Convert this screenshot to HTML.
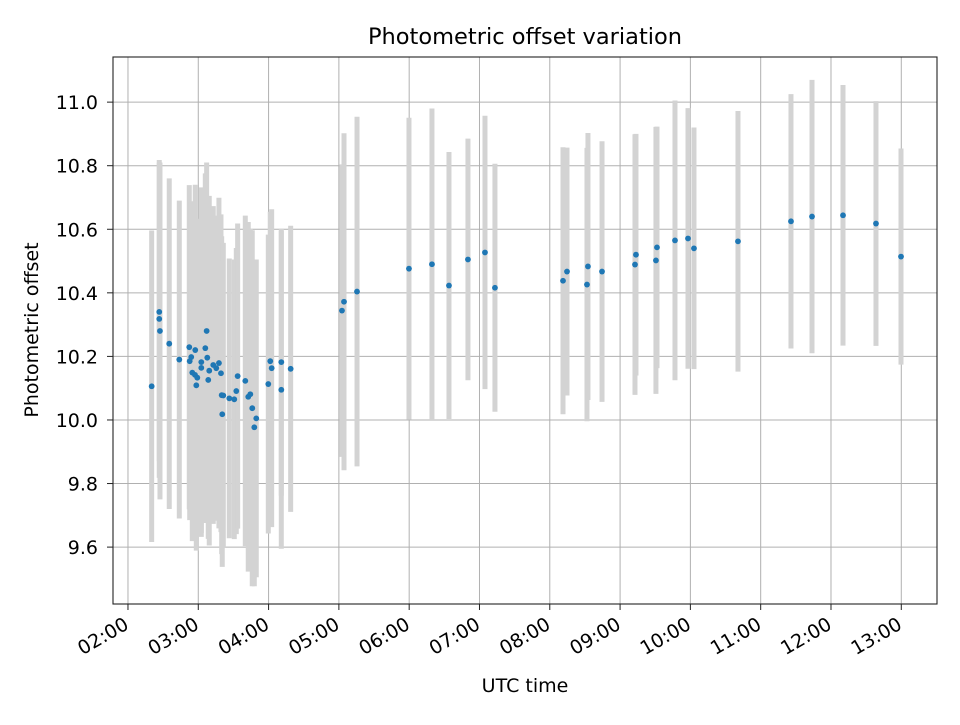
<!DOCTYPE html>
<html><head><meta charset="utf-8"><style>
body{margin:0;background:#fff;}
svg text{font-family:"DejaVu Sans","Liberation Sans",sans-serif;fill:#000;}
</style></head><body>
<svg id="chart" width="960" height="720" xmlns="http://www.w3.org/2000/svg">
<rect width="960" height="720" fill="#fff"/>
<g id="grid"></g>
<g id="bars"></g>
<g id="pts"></g>
<rect x="113" y="57" width="824" height="547" fill="none" stroke="#222" stroke-width="1.1"/>
<g id="axes"></g>
<text x="525" y="44" font-size="22.5" text-anchor="middle">Photometric offset variation</text>
<text x="525" y="692" font-size="19" text-anchor="middle">UTC time</text>
<text x="0" y="0" font-size="19" text-anchor="middle" transform="translate(38,330) rotate(-90)">Photometric offset</text>
</svg>
<script>
const times=[2.337,2.445,2.445,2.455,2.587,2.730,2.872,2.878,2.900,2.957,2.915,2.953,2.986,2.972,3.043,3.043,3.119,3.100,3.128,3.142,3.156,3.213,3.256,3.294,3.323,3.333,3.356,3.341,3.441,3.512,3.541,3.560,3.669,3.711,3.740,3.768,3.825,3.797,3.996,4.024,4.044,4.181,4.181,4.314,
5.044,5.073,5.258,5.997,6.324,6.566,6.836,7.078,7.220,8.188,8.245,8.529,8.543,8.743,9.212,9.226,9.510,9.525,9.781,9.966,10.051,10.677,11.431,11.730,12.171,12.640,12.996];
const values=[10.106,10.34,10.318,10.28,10.24,10.19,10.229,10.185,10.198,10.22,10.149,10.142,10.133,10.109,10.182,10.164,10.28,10.226,10.196,10.126,10.155,10.173,10.163,10.179,10.147,10.078,10.077,10.018,10.068,10.065,10.091,10.138,10.123,10.073,10.081,10.037,10.005,9.977,10.113,10.185,10.163,10.182,10.095,10.161,
10.344,10.372,10.404,10.476,10.49,10.423,10.505,10.527,10.416,10.438,10.467,10.426,10.483,10.467,10.489,10.52,10.502,10.543,10.565,10.571,10.54,10.562,10.625,10.64,10.644,10.618,10.514];
const errors=[0.49,0.47,0.5,0.53,0.52,0.5,0.51,0.5,0.49,0.52,0.53,0.5,0.5,0.52,0.55,0.52,0.53,0.55,0.5,0.5,0.55,0.5,0.48,0.52,0.5,0.5,0.48,0.48,0.44,0.44,0.45,0.48,0.52,0.55,0.52,0.56,0.5,0.5,0.47,0.47,0.5,0.42,0.5,0.45,
0.46,0.53,0.55,0.475,0.49,0.42,0.38,0.43,0.39,0.42,0.39,0.43,0.42,0.41,0.41,0.38,0.42,0.38,0.44,0.41,0.38,0.41,0.40,0.43,0.41,0.385,0.34];
const yTicks=[9.6,9.8,10.0,10.2,10.4,10.6,10.8,11.0];
const yTickLabels=["9.6","9.8","10.0","10.2","10.4","10.6","10.8","11.0"];
const xTicks=[2,3,4,5,6,7,8,9,10,11,12,13];
const xTickLabels=["02:00","03:00","04:00","05:00","06:00","07:00","08:00","09:00","10:00","11:00","12:00","13:00"];
const NS="http://www.w3.org/2000/svg";
const X0=113,X1=937,Y0=57,Y1=604;
const xMin=1.787,xMax=13.508,yMin=9.421,yMax=11.142;
function xs(t){return X0+(t-xMin)/(xMax-xMin)*(X1-X0);}
function ys(v){return Y1-(v-yMin)/(yMax-yMin)*(Y1-Y0);}
function mk(tag,attrs,parent){const e=document.createElementNS(NS,tag);for(const k in attrs)e.setAttribute(k,attrs[k]);parent.appendChild(e);return e;}
const grid=document.getElementById('grid'),axes=document.getElementById('axes');
yTicks.forEach((v,i)=>{const y=ys(v);
 const g=mk('line',{x1:X0,x2:X1,y1:y,y2:y,stroke:'#b0b0b0','stroke-width':1},grid);
 
 const t=mk('line',{x1:X0-6,x2:X0,y1:y,y2:y,stroke:'#222','stroke-width':1},axes);
 
 const l=mk('text',{x:X0-15,y:y+7,'font-size':19,'text-anchor':'end'},axes);l.textContent=yTickLabels[i];
 });
xTicks.forEach((v,i)=>{const x=xs(v);
 const g=mk('line',{x1:x,x2:x,y1:Y0,y2:Y1,stroke:'#b0b0b0','stroke-width':1},grid);
 
 const t=mk('line',{x1:x,x2:x,y1:Y1,y2:Y1+6,stroke:'#222','stroke-width':1},axes);
 
 const l=mk('text',{x:0,y:0,'font-size':19,'text-anchor':'end',transform:`translate(${x+2},${Y1+24}) rotate(-30)`},axes);l.textContent=xTickLabels[i];
 });
const bars=document.getElementById('bars'),pts=document.getElementById('pts');
times.forEach((t,i)=>{const x=xs(t);
 const b=mk('line',{x1:x,x2:x,y1:ys(values[i]+errors[i]),y2:ys(values[i]-errors[i]),stroke:'#d3d3d3','stroke-width':5},bars);
 });
times.forEach((t,i)=>{
 const c=mk('circle',{cx:xs(t),cy:ys(values[i]),r:2.9,fill:'#1f77b4'},pts);
 });
</script>
</body></html>
